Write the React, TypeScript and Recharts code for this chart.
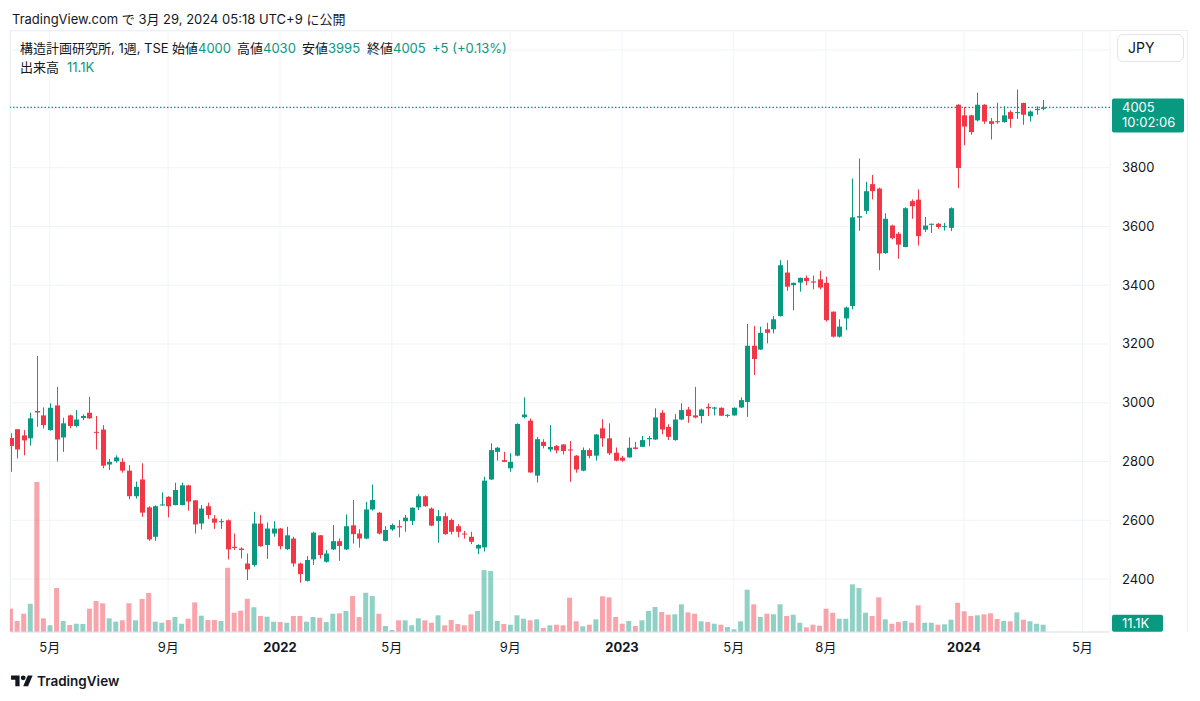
import { ComposedChart, Bar, XAxis, YAxis, CartesianGrid, ReferenceLine, Cell } from 'recharts'

const UP = '#089981'
const DOWN = '#f23645'
const VOL_UP = 'rgba(8,153,129,0.45)'
const VOL_DOWN = 'rgba(242,54,69,0.45)'
const TEXT = '#131722'
const GRID = '#f0f3fa'
const FONT = "Inter, 'Noto Sans CJK JP', sans-serif"

// weekly bars, 2021-03-22 .. 2024-03-25 (index = week number)
const OPEN = [
    2880, 2910, 2889, 2879, 2972, 2957, 2907, 2991, 2882, 2957,
    2921, 2948, 2966, 2901, 2909, 2790, 2801, 2799, 2769, 2682,
    2739, 2644, 2544, 2651, 2680, 2652, 2652, 2719, 2668, 2589,
    2648, 2606, 2594, 2600, 2510, 2504, 2453, 2448, 2589, 2516,
    2555, 2572, 2502, 2538, 2453, 2394, 2467, 2549, 2459, 2501,
    2529, 2501, 2583, 2555, 2538, 2637, 2626, 2530, 2569, 2580,
    2597, 2598, 2644, 2682, 2640, 2598, 2614, 2601, 2580, 2555,
    2544, 2504, 2508, 2739, 2833, 2805, 2777, 2820, 2951, 2939,
    2752, 2867, 2841, 2853, 2858, 2841, 2820, 2769, 2839, 2820,
    2913, 2879, 2830, 2813, 2814, 2848, 2850, 2876, 2875, 2966,
    2918, 2873, 2943, 2977, 2957, 2955, 2986, 2980, 2983, 2956,
    2957, 2984, 3003, 3194, 3181, 3250, 3250, 3295, 3443, 3400,
    3409, 3425, 3413, 3420, 3408, 3310, 3225, 3287, 3329, 3630,
    3653, 3744, 3729, 3509, 3603, 3575, 3530, 3686, 3691, 3589,
    3606, 3609, 3598, 3595, 4014, 3978, 3978, 3961, 4014, 3958,
    3958, 3955, 3989, 3986, 4020, 3975, 3996, 4000
]
const HIGH = [
    2896, 2910, 2907, 2966, 3159, 2984, 2998, 3054, 2949, 2960,
    2975, 2960, 3020, 2955, 2924, 2809, 2821, 2811, 2788, 2732,
    2794, 2648, 2651, 2695, 2682, 2728, 2728, 2721, 2669, 2652,
    2660, 2618, 2605, 2603, 2555, 2508, 2487, 2629, 2618, 2593,
    2597, 2574, 2578, 2544, 2456, 2478, 2561, 2550, 2499, 2584,
    2538, 2620, 2669, 2570, 2663, 2722, 2629, 2580, 2589, 2601,
    2618, 2644, 2689, 2685, 2644, 2635, 2626, 2606, 2587, 2564,
    2561, 2519, 2748, 2862, 2850, 2833, 2828, 2930, 3018, 2947,
    2884, 2876, 2924, 2856, 2859, 2870, 2822, 2848, 2845, 2894,
    2944, 2930, 2848, 2819, 2882, 2867, 2887, 2887, 2981, 2975,
    2927, 2961, 2998, 2986, 3054, 2980, 2998, 2986, 2984, 2961,
    2984, 3018, 3268, 3261, 3259, 3272, 3295, 3485, 3485, 3409,
    3426, 3433, 3433, 3449, 3429, 3311, 3284, 3327, 3763, 3831,
    3752, 3775, 3732, 3645, 3606, 3581, 3665, 3692, 3726, 3632,
    3610, 3612, 3612, 3665, 4016, 4006, 3980, 4055, 4016, 3969,
    4021, 4009, 3995, 4066, 4021, 3995, 4009, 4030
]
const LOW = [
    2765, 2811, 2821, 2854, 2918, 2912, 2905, 2800, 2833, 2913,
    2916, 2941, 2945, 2841, 2777, 2771, 2796, 2762, 2672, 2674,
    2612, 2530, 2530, 2650, 2610, 2651, 2651, 2633, 2555, 2569,
    2605, 2571, 2571, 2467, 2499, 2470, 2397, 2442, 2510, 2469,
    2544, 2501, 2499, 2442, 2388, 2392, 2448, 2470, 2456, 2499,
    2462, 2499, 2521, 2507, 2536, 2633, 2552, 2528, 2564, 2542,
    2561, 2584, 2635, 2646, 2580, 2524, 2551, 2552, 2542, 2538,
    2519, 2485, 2494, 2737, 2803, 2798, 2765, 2818, 2947, 2762,
    2729, 2845, 2833, 2828, 2824, 2731, 2762, 2767, 2811, 2803,
    2850, 2822, 2801, 2799, 2813, 2841, 2849, 2853, 2873, 2893,
    2873, 2871, 2941, 2932, 2947, 2930, 2955, 2957, 2955, 2950,
    2956, 2982, 2952, 3094, 3179, 3202, 3236, 3293, 3381, 3315,
    3378, 3400, 3386, 3386, 3276, 3222, 3222, 3247, 3318, 3585,
    3642, 3692, 3451, 3507, 3556, 3490, 3529, 3626, 3535, 3581,
    3578, 3592, 3586, 3584, 3730, 3876, 3912, 3957, 3949, 3896,
    3949, 3953, 3936, 3966, 3946, 3957, 3980, 3995
]
const CLOSE = [
    2853, 2841, 2872, 2947, 2967, 2924, 2983, 2875, 2930, 2921,
    2943, 2955, 2947, 2898, 2786, 2799, 2814, 2769, 2682, 2714,
    2626, 2535, 2648, 2654, 2648, 2703, 2719, 2664, 2586, 2640,
    2618, 2592, 2597, 2501, 2506, 2499, 2433, 2589, 2512, 2572,
    2572, 2512, 2549, 2453, 2417, 2465, 2558, 2482, 2487, 2529,
    2513, 2580, 2553, 2538, 2637, 2669, 2555, 2567, 2584, 2576,
    2609, 2643, 2682, 2648, 2582, 2614, 2553, 2561, 2561, 2552,
    2527, 2516, 2735, 2839, 2847, 2799, 2799, 2928, 2960, 2763,
    2876, 2853, 2850, 2838, 2836, 2838, 2773, 2839, 2819, 2892,
    2879, 2828, 2803, 2803, 2847, 2843, 2873, 2880, 2950, 2909,
    2884, 2943, 2975, 2955, 2950, 2977, 2981, 2984, 2956, 2959,
    2983, 3009, 3194, 3149, 3238, 3238, 3284, 3468, 3395, 3408,
    3425, 3414, 3409, 3392, 3281, 3225, 3259, 3324, 3631, 3635,
    3720, 3720, 3508, 3626, 3560, 3538, 3662, 3669, 3567, 3603,
    3609, 3598, 3601, 3662, 3799, 3940, 3921, 4014, 3957, 3949,
    3955, 3978, 3966, 3989, 3980, 3991, 4000, 4005
]
// volume, thousands of shares
const VOLUME = [
    35.4, 16.7, 27.8, 43, 228, 20.8, 10.2, 66.9, 16.7, 10.6,
    12.6, 12.2, 35.4, 47.1, 43.6, 20.8, 15.7, 17.8, 43.6, 17.8,
    50.2, 59.3, 15.7, 14.1, 18.2, 22.8, 12.6, 20.2, 45.1, 24.8,
    18.2, 18.2, 16.7, 97.7, 29.3, 32.4, 50.6, 37.5, 24.3, 23.3,
    15.7, 15.2, 14.1, 24.3, 24.3, 15.7, 22.8, 21.7, 15.2, 27.8,
    28.4, 31.9, 54.7, 22.8, 59.7, 54.7, 27.8, 9.1, 3.0, 17.8,
    17.8, 10.2, 20.8, 17.8, 14.1, 25.4, 10.2, 18.2, 12.2, 10.2,
    26.9, 31.9, 94.2, 92.7, 16.7, 12.2, 11.1, 25.4, 20.2, 17.8,
    19.3, 6.1, 10.2, 11.1, 10.2, 52.1, 16.3, 8.7, 11.1, 19.3,
    54.3, 52.7, 22.8, 12.6, 16.7, 9.1, 17.8, 31.9, 38, 30.4,
    26.3, 26.9, 42.1, 29.9, 27.8, 16.3, 15.2, 12.6, 11.1, 7.6,
    4.1, 16.3, 64.3, 42.1, 22.8, 27.8, 26.9, 42.1, 24.3, 26.3,
    14.1, 7.1, 11.1, 9.6, 35.4, 29.3, 20.2, 20.2, 72.5, 66.9,
    29.3, 24.3, 52.7, 19.3, 12.6, 15.2, 16.7, 14.1, 40.6, 14.1,
    14.1, 11.1, 11.7, 18.7, 44.5, 31.5, 24.3, 25.4, 26.9, 28.4,
    19.8, 16.7, 16.3, 29.9, 18.7, 16.3, 12.6, 11.1
]

// week index of the first bar of each labelled month
const TIME_TICKS = [6, 24, 41, 58, 76, 93, 110, 124, 145, 163]
const TIME_LABELS = ['5月', '9月', '2022', '5月', '9月', '2023', '5月', '8月', '2024', '5月']
const PRICE_TICKS = [2400, 2600, 2800, 3000, 3200, 3400, 3600, 3800, 4000, 4200]
const HIDDEN_PRICE_LABELS = [4000, 4200]

const data = OPEN.map((o, i) => ({
    i,
    o,
    h: HIGH[i],
    l: LOW[i],
    c: CLOSE[i],
    range: [LOW[i], HIGH[i]],
    v: VOLUME[i]
}))

const last = data[data.length - 1]
const prev = data[data.length - 2]
const change = last.c - prev.c
const changePct = (Math.round((change * 10000) / prev.c) / 100).toFixed(2)
const sign = change >= 0 ? '+' : ''

const Candle = (props: any) => {
    const { x, y, width, height, payload } = props
    const { o, h, l, c } = payload
    const color = c >= o ? UP : DOWN
    const k = height / (h - l)
    const yo = y + (h - o) * k
    const yc = y + (h - c) * k
    const top = Math.min(yo, yc)
    const bh = Math.max(Math.abs(yo - yc), 1)
    const cx = Math.round(x + width / 2) + 0.5
    return (
        <g>
            <line x1={cx} x2={cx} y1={y} y2={y + height} stroke={color} strokeWidth={1} />
            <rect x={cx - width / 2} y={top} width={width} height={bh} fill={color} />
        </g>
    )
}

const TimeTick = ({ x, y, payload }: any) => {
    const label = TIME_LABELS[TIME_TICKS.indexOf(payload.value)]
    const isYear = /^\d{4}$/.test(label)
    return (
        <text x={x} y={y} dy={20} textAnchor="middle" fontSize={13} fontWeight={isYear ? 700 : 400} fill={TEXT}>
            {label}
        </text>
    )
}

const PriceTick = ({ x, y, payload }: any) => {
    if (HIDDEN_PRICE_LABELS.includes(payload.value)) return null
    return (
        <text x={x} y={y} dy={4.5} textAnchor="start" fontSize={13} fill={TEXT}>
            {payload.value}
        </text>
    )
}

const PriceTag = ({ viewBox }: any) => {
    const left = viewBox.x + viewBox.width + 2
    const y = viewBox.y
    return (
        <g>
            <rect x={left} y={y - 9} width={72} height={34} rx={2} fill={UP} />
            <text x={left + 10} y={y + 4.5} fontSize={13} fill="#fff">{last.c}</text>
            <text x={left + 10} y={y + 20} fontSize={13} fill="#fff">10:02:06</text>
        </g>
    )
}

const VolumeTag = ({ viewBox }: any) => {
    const left = viewBox.x + viewBox.width + 2
    const y = viewBox.y
    return (
        <g>
            <rect x={left} y={y - 10} width={51} height={17} rx={2} fill={UP} />
            <text x={left + 10} y={y + 3} fontSize={13} fill="#fff">{last.v.toFixed(1)}K</text>
        </g>
    )
}

const Value = ({ children }: any) => <span style={{ color: UP }}>{children}</span>

export default function App() {
    return (
        <div style={{ position: 'absolute', left: 0, top: 0, width: 1200, height: 701, background: '#fff', fontFamily: FONT, color: TEXT, overflow: 'hidden' }}>
            {/* header */}
            <div style={{ position: 'absolute', left: 12, top: 10, fontSize: 13, lineHeight: '18px' }}>
                TradingView.com で 3月 29, 2024 05:18 UTC+9 に公開
            </div>

            {/* pane frame */}
            <div style={{ position: 'absolute', left: 10, top: 30, width: 1178, height: 602, borderTop: '1px solid #eceef3', borderLeft: '1px solid #eceef3', borderRight: '1px solid #eceef3', boxSizing: 'border-box' }} />

            <div style={{ position: 'absolute', left: 0, top: 0 }}>
                <ComposedChart width={1200} height={662} data={data} margin={{ top: 31, right: 0, bottom: 0, left: 10 }}>
                    <CartesianGrid stroke={GRID} />
                    <XAxis
                        dataKey="i"
                        type="number"
                        domain={[-0.05, 167.2]}
                        allowDataOverflow
                        ticks={TIME_TICKS}
                        tick={<TimeTick />}
                        tickLine={false}
                        tickSize={0}
                        tickMargin={0}
                        axisLine={{ stroke: '#e0e3eb' }}
                        height={30}
                        interval={0}
                    />
                    <XAxis xAxisId="v" dataKey="i" type="number" domain={[-0.05, 167.2]} allowDataOverflow hide />
                    <YAxis
                        orientation="right"
                        type="number"
                        domain={[2220, 4265]}
                        allowDataOverflow
                        ticks={PRICE_TICKS}
                        tick={<PriceTick />}
                        tickLine={false}
                        tickSize={0}
                        tickMargin={12}
                        axisLine={false}
                        width={90}
                        interval={0}
                    />
                    <YAxis yAxisId="vol" type="number" domain={[0, 914]} allowDataOverflow hide />

                    <Bar xAxisId="v" yAxisId="vol" dataKey="v" barSize={5} isAnimationActive={false}>
                        {data.map((d, i) => (
                            <Cell key={`vol-${i}`} fill={d.c >= d.o ? VOL_UP : VOL_DOWN} />
                        ))}
                    </Bar>
                    <Bar dataKey="range" barSize={5} shape={<Candle />} isAnimationActive={false} />

                    <ReferenceLine y={last.c} stroke={UP} strokeWidth={1.2} strokeDasharray="1.5 2" label={<PriceTag />} />
                    <ReferenceLine xAxisId="v" yAxisId="vol" y={last.v} stroke="none" label={<VolumeTag />} />
                </ComposedChart>
            </div>

            {/* legend */}
            <div style={{ position: 'absolute', top: 39, left: 0, fontSize: 13, lineHeight: '18px', whiteSpace: 'nowrap' }}>
                <span style={{ position: 'absolute', left: 20 }}>構造計画研究所, 1週, TSE</span>
                <span style={{ position: 'absolute', left: 172 }}>始値<Value>{last.o}</Value></span>
                <span style={{ position: 'absolute', left: 237 }}>高値<Value>{last.h}</Value></span>
                <span style={{ position: 'absolute', left: 302 }}>安値<Value>{last.l}</Value></span>
                <span style={{ position: 'absolute', left: 367 }}>終値<Value>{last.c}</Value></span>
                <span style={{ position: 'absolute', left: 432 }}><Value>{sign}{change} ({sign}{changePct}%)</Value></span>
            </div>
            <div style={{ position: 'absolute', top: 58, left: 20, fontSize: 13, lineHeight: '18px', whiteSpace: 'nowrap' }}>
                出来高<span style={{ marginLeft: 8 }}><Value>{last.v.toFixed(1)}K</Value></span>
            </div>

            {/* currency button */}
            <div style={{ position: 'absolute', left: 1117, top: 34, width: 67, height: 28, border: '1px solid #e0e3eb', borderRadius: 6, boxSizing: 'border-box', paddingLeft: 10, fontSize: 14, lineHeight: '26px', background: '#fff' }}>
                JPY
            </div>

            {/* footer */}
            <svg style={{ position: 'absolute', left: 11, top: 673 }} width={22} height={17} viewBox="0 0 36 28">
                <path d="M14 22H7V11H0V4h14v18z" fill={TEXT} />
                <circle cx={20} cy={8} r={4} fill={TEXT} />
                <path d="M28 22h-8l7.5-18h8L28 22z" fill={TEXT} />
            </svg>
            <div style={{ position: 'absolute', left: 37, top: 672, fontSize: 13.5, fontWeight: 600, lineHeight: '18px' }}>
                TradingView
            </div>
        </div>
    )
}
